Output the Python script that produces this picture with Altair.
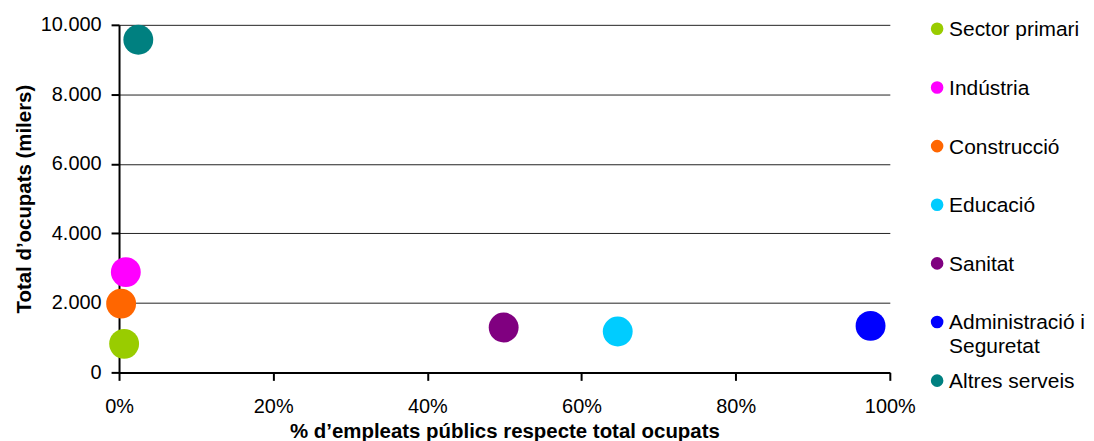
import altair as alt
import pandas as pd

# ---- data ----
sectors = ["Sector primari", "Indústria", "Construcció", "Educació", "Sanitat",
           "Administració i Seguretat", "Altres serveis"]
legend_labels = ["Sector primari", "Indústria", "Construcció", "Educació", "Sanitat",
                 "Administració i\nSeguretat", "Altres serveis"]
pct_public = [0.0066, 0.0088, 0.0027, 0.647, 0.499, 0.975, 0.025]
total_ocupats = [822, 2885, 1977, 1175, 1290, 1338, 9570]
colors = ["#99CC00", "#FF00FF", "#FF6600", "#00CCFF", "#800080", "#0000FF", "#008080"]
x_ticks = [0, 0.2, 0.4, 0.6, 0.8, 1.0]
y_ticks = [0, 2000, 4000, 6000, 8000, 10000]

df = pd.DataFrame({"sector": sectors, "label": legend_labels,
                   "pct": pct_public, "total": total_ocupats})

FONT = "Liberation Sans"
color_scale = alt.Scale(domain=sectors, range=colors)

points = alt.Chart(df).mark_circle(size=900, opacity=1).encode(
    x=alt.X("pct:Q",
            scale=alt.Scale(domain=[0, 1], nice=False),
            axis=alt.Axis(values=x_ticks, format=".0%", labelFlush=False,
                          title="% d’empleats públics respecte total ocupats",
                          grid=False, tickSize=8, tickWidth=2, tickColor="black",
                          domainColor="black", domainWidth=2,
                          labelFontSize=20, labelColor="black", labelPadding=16.5,
                          titleFontSize=20.5, titleFontWeight="bold", titleColor="black",
                          titlePadding=5, labelFont=FONT, titleFont=FONT)),
    y=alt.Y("total:Q",
            scale=alt.Scale(domain=[0, 10000], nice=False),
            axis=alt.Axis(values=y_ticks, labelFlush=False,
                          labelExpr="replace(format(datum.value, ','), ',', '.')",
                          title="Total d’ocupats (milers)",
                          grid=True, gridColor="#222222", gridWidth=1,
                          tickSize=8, tickWidth=2, tickColor="black",
                          domainColor="black", domainWidth=2,
                          labelFontSize=20, labelColor="black", labelPadding=10,
                          titleFontSize=20.5, titleFontWeight="bold", titleColor="black",
                          titlePadding=6, labelFont=FONT, titleFont=FONT)),
    color=alt.Color("sector:N", scale=color_scale, legend=None),
    order=alt.Order("order:Q"),
).transform_calculate(order="indexof(" + str(sectors).replace("'", '"') + ", datum.sector)"
).properties(width=774, height=349)

leg_base = alt.Chart(df).encode(
    y=alt.Y("sector:N", scale=alt.Scale(domain=sectors, range=[4, 357.3], padding=0),
            axis=None)
)
leg_pts = leg_base.mark_circle(size=160, opacity=1).encode(
    x=alt.value(47.5),
    color=alt.Color("sector:N", scale=color_scale, legend=None),
)
leg_txt = leg_base.mark_text(align="left", baseline="top", dy=-9.5, fontSize=21,
                             lineBreak="\n", lineHeight=24, font=FONT,
                             color="black").encode(
    x=alt.value(59.5),
    text="label:N",
)
legend = (leg_pts + leg_txt).properties(width=180, height=349)

chart = alt.hconcat(points, legend, spacing=0, bounds="flush").configure(
    font=FONT, view=alt.ViewConfig(stroke=None)
).properties(
    padding={"left": 5.5, "top": 6, "right": 0, "bottom": 0}
)

chart.save("out.html", embed_options={"renderer": "svg", "actions": False})
